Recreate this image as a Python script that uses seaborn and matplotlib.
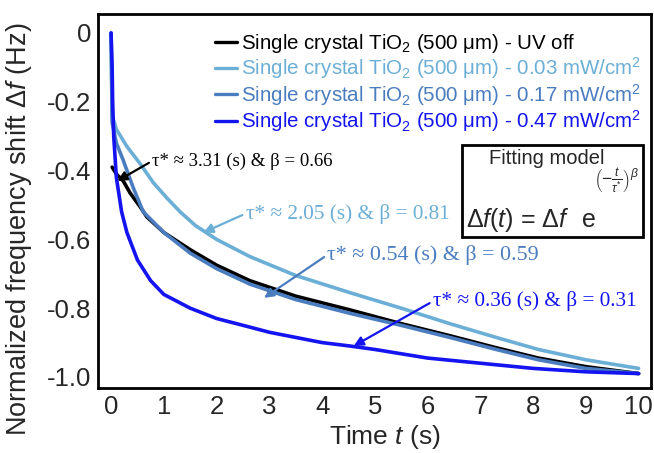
import numpy as np
import pandas as pd
import matplotlib
matplotlib.use("Agg")
import matplotlib.pyplot as plt
import seaborn as sns
from matplotlib.patches import Rectangle

# ---- data ----
t_black = [0.02, 0.1, 0.23, 0.36, 0.55, 0.68, 1.0, 1.5, 2.0, 2.63, 3.5, 4.53, 5.5, 6.42, 7.3, 8.1, 9.0, 10.0]
v_black = [-0.39, -0.41, -0.43, -0.465, -0.505, -0.535, -0.58, -0.63, -0.675, -0.72, -0.765, -0.805, -0.845, -0.88, -0.915, -0.945, -0.97, -0.99]

t_light = [0.0, 0.02, 0.1, 0.3, 0.55, 0.8, 1.06, 1.31, 1.6, 2.0, 2.63, 3.5, 4.53, 5.5, 6.42, 7.3, 8.1, 9.0, 10.0]
v_light = [0.0, -0.24, -0.28, -0.33, -0.38, -0.435, -0.48, -0.52, -0.56, -0.6, -0.65, -0.705, -0.755, -0.8, -0.845, -0.885, -0.92, -0.95, -0.975]

t_mid = [0.0, 0.02, 0.1, 0.23, 0.42, 0.61, 1.0, 1.5, 2.0, 2.63, 3.5, 4.53, 5.5, 6.42, 7.3, 8.1, 9.0, 10.0]
v_mid = [0.0, -0.26, -0.32, -0.37, -0.45, -0.52, -0.58, -0.64, -0.685, -0.73, -0.775, -0.815, -0.85, -0.885, -0.92, -0.95, -0.975, -0.99]

t_blue = [0.0, 0.02, 0.03, 0.05, 0.1, 0.2, 0.3, 0.5, 0.75, 1.0, 1.5, 2.0, 2.63, 3.0, 4.0, 4.53, 5.0, 6.0, 7.0, 8.0, 9.0, 10.0]
v_blue = [0.0, -0.1, -0.2, -0.3, -0.42, -0.52, -0.58, -0.66, -0.72, -0.76, -0.8, -0.83, -0.855, -0.87, -0.9, -0.91, -0.92, -0.945, -0.96, -0.975, -0.985, -0.99]

labels = [
    r"Single crystal TiO$_2$ (500 μm) - UV off",
    r"Single crystal TiO$_2$ (500 μm) - 0.03 mW/cm$^2$",
    r"Single crystal TiO$_2$ (500 μm) - 0.17 mW/cm$^2$",
    r"Single crystal TiO$_2$ (500 μm) - 0.47 mW/cm$^2$",
]
colors = ["#000000", "#6BAED6", "#4A7DBF", "#1414F0"]

y_ticks = [0, -0.1, -0.2, -0.3, -0.4, -0.5, -0.6, -0.7, -0.8, -0.9, -1.0]
y_ticklabels = ["0", "", "-0.2", "", "-0.4", "", "-0.6", "", "-0.8", "", "-1.0"]
x_ticks = [0, 1, 2, 3, 4, 5, 6, 7, 8, 9, 10]

frames = []
for t, v, lab in [(t_black, v_black, labels[0]), (t_light, v_light, labels[1]),
                  (t_mid, v_mid, labels[2]), (t_blue, v_blue, labels[3])]:
    frames.append(pd.DataFrame({"t": t, "v": v, "series": lab}))
df = pd.concat(frames, ignore_index=True)

sns.set_style("white")
plt.rcParams["font.family"] = ["Liberation Sans", "DejaVu Sans"]
plt.rcParams["mathtext.fontset"] = "custom"
plt.rcParams["mathtext.rm"] = "Liberation Sans"
plt.rcParams["mathtext.it"] = "Liberation Sans:italic"
plt.rcParams["mathtext.bf"] = "Liberation Sans:bold"

W, H = 654, 453
fig = plt.figure(figsize=(6.54, 4.53), dpi=100)
ax = fig.add_axes([0.150, 0.1435, 0.845, 0.8255])

sns.lineplot(data=df, x="t", y="v", hue="series", palette=dict(zip(labels, colors)),
             hue_order=labels, sort=False, estimator=None, linewidth=2.6, ax=ax, legend=True)

ax.set_xlim(-0.246, 10.23)
ax.set_ylim(-1.032, 0.055)
ax.set_xticks(x_ticks)
ax.set_xticklabels([str(x) for x in x_ticks])
ax.set_yticks(y_ticks)
ax.set_yticklabels(y_ticklabels)
ax.tick_params(direction="in", length=9, width=1.5, labelsize=18.5, pad=5)
for s in ax.spines.values():
    s.set_linewidth(2)
    s.set_color("black")

ax.set_xlabel("")
ax.set_ylabel("")
fig.text(385 / W, 1 - 437 / H, r"Time $\it{t}$ (s)", fontsize=19, ha="center", va="center")
fig.text(19 / W, 1 - 229 / H, r"Normalized frequency shift Δ$\it{f}$ (Hz)", fontsize=19.5,
         ha="center", va="center", rotation=90)

leg = ax.legend(loc="upper left", bbox_to_anchor=(0.185, 0.99), frameon=False, fontsize=14.8,
                handlelength=1.1, handletextpad=0.2, labelspacing=0.02, borderaxespad=0.3)
for lh in leg.get_lines():
    lh.set_linewidth(2.4)
for txt, c in zip(leg.get_texts(), colors):
    txt.set_color(c)

serif = ["Liberation Serif", "DejaVu Serif"]
ann = [
    ("τ* ≈ 3.31 (s) & β = 0.66", colors[0], (0.12, -0.43), (0.78, -0.372), 13.5),
    ("τ* ≈ 2.05 (s) & β = 0.81", colors[1], (1.75, -0.58), (2.55, -0.525), 15.3),
    ("τ* ≈ 0.54 (s) & β = 0.59", colors[2], (2.9, -0.77), (4.1, -0.645), 15.8),
    ("τ* ≈ 0.36 (s) & β = 0.31", colors[3], (4.6, -0.91), (6.1, -0.78), 15.3),
]
for text, c, xy, xyt, fs in ann:
    ax.annotate(text, xy=xy, xytext=xyt, color=c, fontsize=fs, family=serif,
                ha="left", va="center",
                arrowprops=dict(arrowstyle="-|>", color=c, lw=1.6, shrinkA=0, shrinkB=0,
                                mutation_scale=14, relpos=(0, 0.5)))

# fitting model box
fig.text(547 / W, 1 - 158 / H, "Fitting model", fontsize=14.5, ha="center", va="center")
fig.text(466 / W, 1 - 227 / H, r"$\Delta\mathit{f}(\mathit{t})$ = $\Delta\mathit{f}$",
         fontsize=18, ha="left", va="baseline")
fig.text(582 / W, 1 - 227 / H, "e", fontsize=18, ha="left", va="baseline")
fig.text(594 / W, 1 - 181 / H, r"$\left(\mathrm{-}\frac{\mathit{t}}{\tau^{*}}\right)^{\beta}$",
         fontsize=12.5, ha="left", va="center")
fig.add_artist(Rectangle((462 / W, 1 - 237 / H), 181 / W, 92 / H, transform=fig.transFigure,
                         fill=False, lw=2, ec="black", clip_on=False))

fig.savefig("out.png", dpi=100)
